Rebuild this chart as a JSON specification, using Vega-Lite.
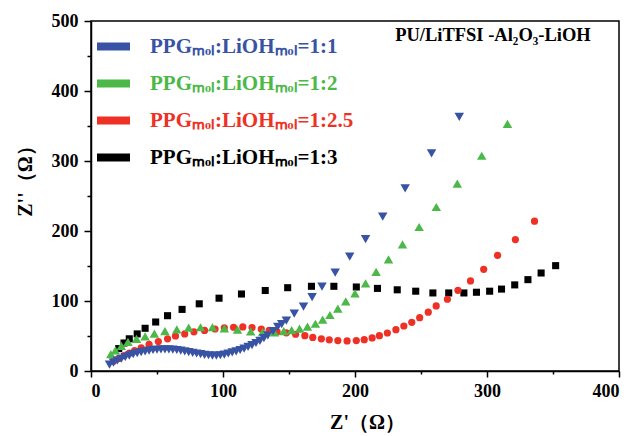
{
  "$schema": "https://vega.github.io/schema/vega-lite/v6.json",
  "width": 528,
  "height": 350,
  "autosize": {"type": "none"},
  "padding": {"left": 91, "top": 21, "right": 15, "bottom": 65},
  "title": {
    "text": "PU/LiTFSI -Al₂O₃-LiOH",
    "anchor": "end",
    "orient": "top",
    "offset": -32,
    "dx": -29,
    "font": "Liberation Serif",
    "fontWeight": "bold",
    "fontSize": 18.5,
    "color": "#000000"
  },
  "data": {
    "values": [
      {"series": "1:3", "zr": 21, "zi": 32},
      {"series": "1:3", "zr": 25, "zi": 40},
      {"series": "1:3", "zr": 29, "zi": 46},
      {"series": "1:3", "zr": 35, "zi": 53},
      {"series": "1:3", "zr": 41, "zi": 61},
      {"series": "1:3", "zr": 49, "zi": 70},
      {"series": "1:3", "zr": 58, "zi": 79},
      {"series": "1:3", "zr": 69, "zi": 88},
      {"series": "1:3", "zr": 82, "zi": 96},
      {"series": "1:3", "zr": 97, "zi": 104},
      {"series": "1:3", "zr": 114, "zi": 110},
      {"series": "1:3", "zr": 132, "zi": 115},
      {"series": "1:3", "zr": 149, "zi": 119},
      {"series": "1:3", "zr": 167, "zi": 121},
      {"series": "1:3", "zr": 184, "zi": 121},
      {"series": "1:3", "zr": 201, "zi": 120},
      {"series": "1:3", "zr": 217, "zi": 118},
      {"series": "1:3", "zr": 232, "zi": 116},
      {"series": "1:3", "zr": 246, "zi": 114},
      {"series": "1:3", "zr": 259, "zi": 111.5},
      {"series": "1:3", "zr": 271, "zi": 111.5},
      {"series": "1:3", "zr": 282.5, "zi": 111.5},
      {"series": "1:3", "zr": 292, "zi": 112.5},
      {"series": "1:3", "zr": 302, "zi": 114},
      {"series": "1:3", "zr": 311, "zi": 117},
      {"series": "1:3", "zr": 321, "zi": 123},
      {"series": "1:3", "zr": 331, "zi": 130.5},
      {"series": "1:3", "zr": 341, "zi": 140},
      {"series": "1:3", "zr": 352, "zi": 150.5},

      {"series": "1:2.5", "zr": 17, "zi": 14},
      {"series": "1:2.5", "zr": 21, "zi": 18},
      {"series": "1:2.5", "zr": 25, "zi": 22},
      {"series": "1:2.5", "zr": 29, "zi": 25.5},
      {"series": "1:2.5", "zr": 33, "zi": 29},
      {"series": "1:2.5", "zr": 38, "zi": 33},
      {"series": "1:2.5", "zr": 44, "zi": 38},
      {"series": "1:2.5", "zr": 51, "zi": 42},
      {"series": "1:2.5", "zr": 58, "zi": 46},
      {"series": "1:2.5", "zr": 64, "zi": 50},
      {"series": "1:2.5", "zr": 71, "zi": 53},
      {"series": "1:2.5", "zr": 78, "zi": 56},
      {"series": "1:2.5", "zr": 86, "zi": 58},
      {"series": "1:2.5", "zr": 94, "zi": 60},
      {"series": "1:2.5", "zr": 101, "zi": 61.5},
      {"series": "1:2.5", "zr": 108, "zi": 62.5},
      {"series": "1:2.5", "zr": 115, "zi": 63},
      {"series": "1:2.5", "zr": 122, "zi": 62},
      {"series": "1:2.5", "zr": 129, "zi": 60},
      {"series": "1:2.5", "zr": 135, "zi": 58},
      {"series": "1:2.5", "zr": 141, "zi": 56},
      {"series": "1:2.5", "zr": 148, "zi": 54.5},
      {"series": "1:2.5", "zr": 155, "zi": 52.5},
      {"series": "1:2.5", "zr": 162, "zi": 50.5},
      {"series": "1:2.5", "zr": 168, "zi": 48},
      {"series": "1:2.5", "zr": 174.5, "zi": 46},
      {"series": "1:2.5", "zr": 180.5, "zi": 44.5},
      {"series": "1:2.5", "zr": 187, "zi": 43.5},
      {"series": "1:2.5", "zr": 194, "zi": 43},
      {"series": "1:2.5", "zr": 201, "zi": 43.5},
      {"series": "1:2.5", "zr": 207, "zi": 44.8},
      {"series": "1:2.5", "zr": 213, "zi": 47.2},
      {"series": "1:2.5", "zr": 218.5, "zi": 50.5},
      {"series": "1:2.5", "zr": 224.5, "zi": 54.3},
      {"series": "1:2.5", "zr": 231, "zi": 59},
      {"series": "1:2.5", "zr": 237, "zi": 64.3},
      {"series": "1:2.5", "zr": 243, "zi": 69.6},
      {"series": "1:2.5", "zr": 249, "zi": 76.2},
      {"series": "1:2.5", "zr": 255.5, "zi": 84},
      {"series": "1:2.5", "zr": 261.5, "zi": 93},
      {"series": "1:2.5", "zr": 270, "zi": 102.5},
      {"series": "1:2.5", "zr": 278, "zi": 115.3},
      {"series": "1:2.5", "zr": 287.5, "zi": 128.6},
      {"series": "1:2.5", "zr": 297.5, "zi": 145.3},
      {"series": "1:2.5", "zr": 308, "zi": 165.3},
      {"series": "1:2.5", "zr": 321.5, "zi": 187.7},
      {"series": "1:2.5", "zr": 336, "zi": 214},

      {"series": "1:2", "zr": 15, "zi": 24},
      {"series": "1:2", "zr": 18.5, "zi": 29.5},
      {"series": "1:2", "zr": 23, "zi": 36},
      {"series": "1:2", "zr": 28, "zi": 41.5},
      {"series": "1:2", "zr": 34.5, "zi": 46},
      {"series": "1:2", "zr": 41, "zi": 49.5},
      {"series": "1:2", "zr": 48, "zi": 53.5},
      {"series": "1:2", "zr": 56, "zi": 57},
      {"series": "1:2", "zr": 65, "zi": 59.5},
      {"series": "1:2", "zr": 74, "zi": 62},
      {"series": "1:2", "zr": 83, "zi": 62.5},
      {"series": "1:2", "zr": 92, "zi": 62.5},
      {"series": "1:2", "zr": 101, "zi": 61},
      {"series": "1:2", "zr": 111, "zi": 59},
      {"series": "1:2", "zr": 121, "zi": 56.7},
      {"series": "1:2", "zr": 130, "zi": 55.5},
      {"series": "1:2", "zr": 139, "zi": 55},
      {"series": "1:2", "zr": 146, "zi": 57},
      {"series": "1:2", "zr": 152, "zi": 58.5},
      {"series": "1:2", "zr": 158, "zi": 60.5},
      {"series": "1:2", "zr": 164, "zi": 63.5},
      {"series": "1:2", "zr": 170, "zi": 67.5},
      {"series": "1:2", "zr": 175.5, "zi": 73.4},
      {"series": "1:2", "zr": 181, "zi": 80},
      {"series": "1:2", "zr": 187, "zi": 89},
      {"series": "1:2", "zr": 193, "zi": 99.6},
      {"series": "1:2", "zr": 200, "zi": 111},
      {"series": "1:2", "zr": 208, "zi": 125.3},
      {"series": "1:2", "zr": 216, "zi": 141.5},
      {"series": "1:2", "zr": 225.4, "zi": 159.6},
      {"series": "1:2", "zr": 236, "zi": 181},
      {"series": "1:2", "zr": 248.6, "zi": 205.7},
      {"series": "1:2", "zr": 261.6, "zi": 234.3},
      {"series": "1:2", "zr": 277.5, "zi": 267.7},
      {"series": "1:2", "zr": 296, "zi": 307.5},
      {"series": "1:2", "zr": 315.5, "zi": 353},

      {"series": "1:1", "zr": 14, "zi": 9},
      {"series": "1:1", "zr": 17, "zi": 12},
      {"series": "1:1", "zr": 20, "zi": 15},
      {"series": "1:1", "zr": 23, "zi": 17.5},
      {"series": "1:1", "zr": 26, "zi": 20},
      {"series": "1:1", "zr": 29, "zi": 22},
      {"series": "1:1", "zr": 32, "zi": 24},
      {"series": "1:1", "zr": 35, "zi": 25.5},
      {"series": "1:1", "zr": 38, "zi": 27},
      {"series": "1:1", "zr": 41, "zi": 28},
      {"series": "1:1", "zr": 44, "zi": 29},
      {"series": "1:1", "zr": 47, "zi": 30},
      {"series": "1:1", "zr": 50, "zi": 30.5},
      {"series": "1:1", "zr": 53, "zi": 31},
      {"series": "1:1", "zr": 56, "zi": 31},
      {"series": "1:1", "zr": 59, "zi": 31},
      {"series": "1:1", "zr": 62, "zi": 30.5},
      {"series": "1:1", "zr": 65, "zi": 30},
      {"series": "1:1", "zr": 68, "zi": 29},
      {"series": "1:1", "zr": 71, "zi": 28},
      {"series": "1:1", "zr": 74, "zi": 27},
      {"series": "1:1", "zr": 77, "zi": 26},
      {"series": "1:1", "zr": 80, "zi": 25},
      {"series": "1:1", "zr": 83, "zi": 24},
      {"series": "1:1", "zr": 86, "zi": 23},
      {"series": "1:1", "zr": 89, "zi": 22.5},
      {"series": "1:1", "zr": 92, "zi": 22},
      {"series": "1:1", "zr": 95, "zi": 22},
      {"series": "1:1", "zr": 98, "zi": 22.5},
      {"series": "1:1", "zr": 101, "zi": 23.5},
      {"series": "1:1", "zr": 104, "zi": 25},
      {"series": "1:1", "zr": 107, "zi": 26.5},
      {"series": "1:1", "zr": 110, "zi": 28},
      {"series": "1:1", "zr": 113, "zi": 30},
      {"series": "1:1", "zr": 116, "zi": 32},
      {"series": "1:1", "zr": 119, "zi": 34.5},
      {"series": "1:1", "zr": 122, "zi": 37},
      {"series": "1:1", "zr": 125, "zi": 40},
      {"series": "1:1", "zr": 128, "zi": 43},
      {"series": "1:1", "zr": 131, "zi": 47},
      {"series": "1:1", "zr": 134, "zi": 51},
      {"series": "1:1", "zr": 138, "zi": 57},
      {"series": "1:1", "zr": 141.5, "zi": 63},
      {"series": "1:1", "zr": 144.5, "zi": 67},
      {"series": "1:1", "zr": 148, "zi": 72},
      {"series": "1:1", "zr": 154, "zi": 82},
      {"series": "1:1", "zr": 161, "zi": 92},
      {"series": "1:1", "zr": 167.5, "zi": 105.5},
      {"series": "1:1", "zr": 175, "zi": 120.5},
      {"series": "1:1", "zr": 185, "zi": 140.5},
      {"series": "1:1", "zr": 196, "zi": 163.5},
      {"series": "1:1", "zr": 208, "zi": 188.5},
      {"series": "1:1", "zr": 221, "zi": 220.5},
      {"series": "1:1", "zr": 238, "zi": 261},
      {"series": "1:1", "zr": 258, "zi": 311},
      {"series": "1:1", "zr": 279, "zi": 363}
    ]
  },
  "encoding": {
    "x": {
      "field": "zr",
      "type": "quantitative",
      "scale": {"domain": [0, 400], "nice": false, "zero": false},
      "axis": {
        "title": "Z'（Ω）",
        "titleX": 276,
        "values": [0, 50, 100, 150, 200, 250, 300, 350, 400],
        "labelExpr": "datum.value % 100 === 0 ? datum.label : ''",
        "tickSize": {"condition": {"test": "datum.value % 100 === 0", "value": 6}, "value": 3},
        "labelPadding": 5,
        "titlePadding": 12,
        "grid": false
      }
    },
    "y": {
      "field": "zi",
      "type": "quantitative",
      "scale": {"domain": [0, 500], "nice": false, "zero": false},
      "axis": {
        "title": "Z''（Ω）",
        "titleY": 155,
        "values": [0, 50, 100, 150, 200, 250, 300, 350, 400, 450, 500],
        "labelExpr": "datum.value % 100 === 0 ? datum.label : ''",
        "tickSize": {"condition": {"test": "datum.value % 100 === 0", "value": 7}, "value": 4},
        "labelPadding": 6,
        "titlePadding": 16,
        "grid": false
      }
    },
    "color": {
      "field": "series",
      "type": "nominal",
      "scale": {
        "domain": ["1:1", "1:2", "1:2.5", "1:3"],
        "range": ["#3953A4", "#4CB848", "#EE3124", "#000000"]
      },
      "legend": {
        "orient": "none",
        "legendX": 6,
        "legendY": 9,
        "title": null,
        "padding": 0,
        "symbolType": "M-1,-0.24H1V0.24H-1Z",
        "symbolSize": 1089,
        "symbolStrokeWidth": 0,
        "symbolOpacity": 1,
        "rowPadding": 10,
        "labelOffset": 20,
        "labelFont": "Liberation Serif",
        "labelFontWeight": "bold",
        "labelFontSize": 21,
        "labelLimit": 400,
        "labelColor": {"expr": "scale('color', datum.value)"},
        "labelExpr": "'PPGₘₒₗ:LiOHₘₒₗ=' + datum.label"
      }
    }
  },
  "layer": [
    {
      "transform": [{"filter": "datum.series === '1:3'"}],
      "mark": {"type": "point", "filled": true, "opacity": 1, "strokeWidth": 0, "shape": "square", "size": 50}
    },
    {
      "transform": [{"filter": "datum.series === '1:2.5'"}],
      "mark": {"type": "point", "filled": true, "opacity": 1, "strokeWidth": 0, "shape": "circle", "size": 52}
    },
    {
      "transform": [{"filter": "datum.series === '1:2'"}],
      "mark": {"type": "point", "filled": true, "opacity": 1, "strokeWidth": 0, "shape": "triangle-up", "size": 90}
    },
    {
      "transform": [{"filter": "datum.series === '1:1'"}],
      "mark": {"type": "point", "filled": true, "opacity": 1, "strokeWidth": 0, "shape": "triangle-down", "size": 90}
    }
  ],
  "config": {
    "view": {"stroke": "#000000", "strokeWidth": 1.5},
    "axis": {
      "domainColor": "#000000",
      "domainWidth": 1.5,
      "tickColor": "#000000",
      "tickWidth": 1.5,
      "labelFont": "Liberation Serif",
      "labelFontWeight": "bold",
      "labelFontSize": 18,
      "labelColor": "#000000",
      "titleFont": "Liberation Serif",
      "titleFontWeight": "bold",
      "titleFontSize": 20,
      "titleColor": "#000000"
    }
  }
}
